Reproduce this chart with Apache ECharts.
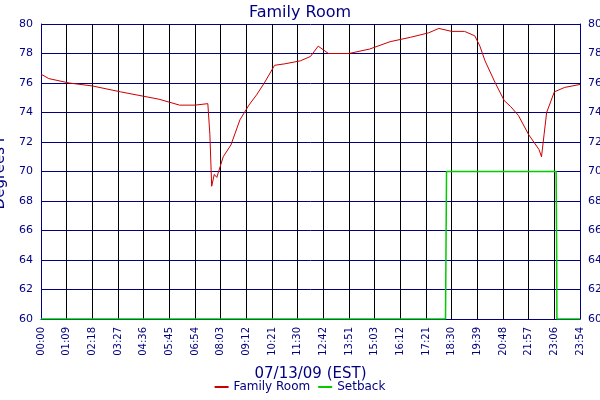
<!DOCTYPE html><html><head><meta charset="utf-8"><script src="https://cdn.jsdelivr.net/npm/echarts@6/dist/echarts.min.js"></script></head><body style="margin:0"><div id="c" style="width:600px;height:400px"></div><script>
const tickLabels=["00:00","01:09","02:18","03:27","04:36","05:45","06:54","08:03","09:12","10:21","11:30","12:42","13:51","15:03","16:12","17:21","18:30","19:39","20:48","21:57","23:06","23:54"];
const roomX=[0,0.3,1.1,2,3.1,4,4.6,5.4,6,6.5,6.58,6.62,6.65,6.75,6.85,7.1,7.4,7.75,8.1,8.4,8.7,9.1,9.5,10.1,10.5,10.8,11.2,12,12.8,13.6,14.4,15.1,15.5,16,16.5,16.9,17.1,17.3,17.7,18.05,18.3,18.6,19,19.4,19.5,19.6,19.7,20,20.4,21];
const roomY=[76.6,76.3,76.0,75.8,75.4,75.1,74.9,74.5,74.5,74.6,72.5,70.5,69.0,69.8,69.6,71,71.8,73.5,74.5,75.2,76,77.2,77.3,77.5,77.8,78.5,78.0,78.0,78.3,78.8,79.1,79.4,79.7,79.5,79.5,79.2,78.5,77.5,76,74.8,74.4,73.8,72.5,71.5,71.0,72.5,74,75.4,75.7,75.9];
const setX=[0,15.76,15.78,15.8,20.07,20.09,20.1,21];
const setY=[60,60,65,70,70,65,60,60];
const C='#000080';
const z=(xs,ys)=>xs.map((x,i)=>[x,ys[i]]);
const ax={min:60,max:80,interval:2,axisLine:{show:true,lineStyle:{color:C}},axisTick:{show:false},axisLabel:{color:C,fontSize:11},splitLine:{show:true,lineStyle:{color:C,width:1}}};
echarts.init(document.getElementById('c')).setOption({
backgroundColor:'#fff',animation:false,textStyle:{fontFamily:'DejaVu Sans'},
title:{text:'Family Room',left:'center',top:0,textStyle:{color:C,fontSize:16,fontWeight:'normal'}},
grid:{left:41,right:20,top:24,bottom:81,containLabel:false,outerBoundsMode:'none'},
legend:{bottom:2,itemWidth:14,itemHeight:2,textStyle:{color:C,fontSize:12},icon:'rect',data:['Family Room','Setback']},
xAxis:{type:'value',min:0,max:21,interval:1,name:'07/13/09 (EST)',nameLocation:'middle',nameGap:48,nameTextStyle:{color:C,fontSize:15},
axisLine:{lineStyle:{color:C}},axisTick:{show:false},splitLine:{show:true,lineStyle:{color:'#000'}},
axisLabel:{color:C,fontSize:10,rotate:90,formatter:v=>tickLabels[v]||''}},
yAxis:[Object.assign({type:'value',position:'left',name:'Degrees F',nameLocation:'middle',nameGap:27,nameTextStyle:{color:C,fontSize:15}},ax),
Object.assign({type:'value',position:'right'},ax,{splitLine:{show:false}})],
series:[{name:'Setback',type:'line',data:z(setX,setY),symbol:'none',lineStyle:{color:'#00cc00',width:1.5},itemStyle:{color:'#00cc00'}},
{name:'Family Room',type:'line',data:z(roomX,roomY),symbol:'none',lineStyle:{color:'#cc0000',width:1},itemStyle:{color:'#cc0000'}}]
});
</script></body></html>
